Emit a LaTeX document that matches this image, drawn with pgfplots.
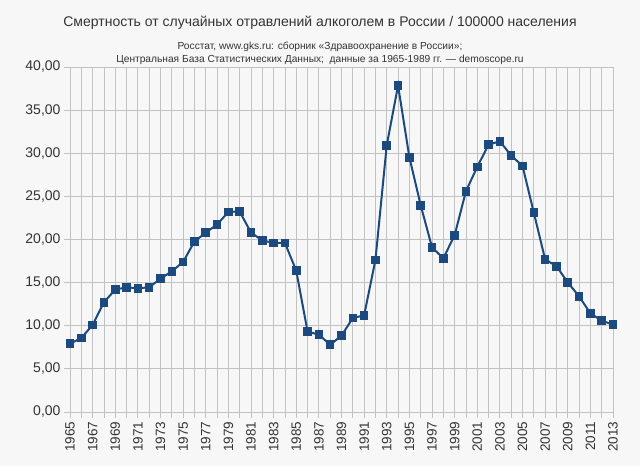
\documentclass[border=0pt]{standalone}
\usepackage{pgfplots}
\pgfplotsset{compat=1.18}
\usepackage{fontspec}
\setmainfont{Liberation Sans}
\definecolor{navy}{HTML}{1C4A7E}
\definecolor{gridc}{HTML}{C2C2C2}
\definecolor{txt}{HTML}{333333}
\definecolor{bg}{HTML}{F7F7F7}
\begin{document}
\begin{tikzpicture}
\fill[bg] (-70bp,-54bp) rectangle (570bp,412bp);
\begin{axis}[
  scale only axis,
  width=543bp, height=345bp,
  xmin=1965, xmax=2013, ymin=0, ymax=40,
  xtick={1965,1967,...,2013},
  minor xtick={1966,1968,...,2012},
  ytick={0,5,...,40},
  grid=both,
  major grid style={gridc, line width=0.8bp},
  minor grid style={gridc, line width=0.8bp},
  axis line style={draw=none},
  tick style={gridc, line width=0.8bp},
  major tick length=6bp, minor tick length=6bp,
  tick align=outside,
  xtick pos=bottom, ytick pos=left,
  /pgf/number format/assume math mode=true,
  yticklabel style={/pgf/number format/.cd, fixed, fixed zerofill, precision=2, use comma, /tikz/.cd, font=\fontsize{14bp}{16bp}\selectfont, text=txt},
  xticklabel style={/pgf/number format/1000 sep={}, rotate=90, anchor=east, font=\fontsize{13.5bp}{15bp}\selectfont, text=txt},
  clip=false,
]
\addplot[navy, line width=2bp, mark=square*, mark size=3.3bp, mark options={fill=navy, draw=navy}] coordinates {
(1965,7.92) (1966,8.58) (1967,10.09) (1968,12.72) (1969,14.19) (1970,14.46)
(1971,14.34) (1972,14.46) (1973,15.46) (1974,16.31) (1975,17.40) (1976,19.76)
(1977,20.80) (1978,21.73) (1979,23.20) (1980,23.24) (1981,20.80) (1982,19.90)
(1983,19.60) (1984,19.60) (1985,16.39) (1986,9.32) (1987,8.97) (1988,7.80)
(1989,8.85) (1990,10.90) (1991,11.20) (1992,17.63) (1993,30.93) (1994,37.85)
(1995,29.54) (1996,23.97) (1997,19.10) (1998,17.82) (1999,20.49) (2000,25.60)
(2001,28.42) (2002,31.00) (2003,31.39) (2004,29.73) (2005,28.54) (2006,23.12)
(2007,17.70) (2008,16.90) (2009,15.03) (2010,13.41) (2011,11.44) (2012,10.59)
(2013,10.13)
};
\end{axis}
\node[text=txt, font=\fontsize{14bp}{17bp}\selectfont] at (250bp,389bp) {Смертность от случайных отравлений алкоголем в России / 100000 населения};
\node[text=txt, font=\fontsize{10.2bp}{13bp}\selectfont, align=center] at (250bp,358.5bp) {Росстат, www.gks.ru: сборник «Здравоохранение в России»;\\Центральная База Статистических Данных;\ \ данные за 1965-1989 гг. — demoscope.ru};
\path[use as bounding box] (-70bp,-54bp) rectangle (570bp,412bp);
\end{tikzpicture}
\end{document}
